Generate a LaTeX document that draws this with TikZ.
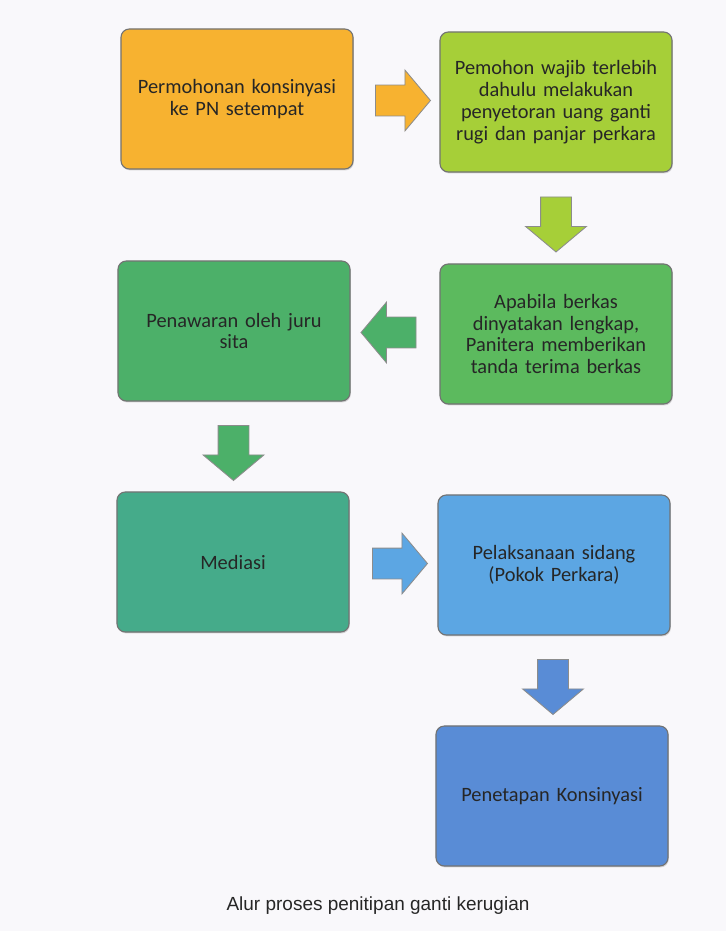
\documentclass[tikz,border=0pt]{standalone}
\usepackage{fontspec}
\setmainfont{Carlito}
\newfontfamily\capfont{Liberation Sans}
\usetikzlibrary{shapes.arrows}
\usetikzlibrary{positioning}
\usetikzlibrary{calc}
\usetikzlibrary{shadows}
\definecolor{bgcol}{rgb}{0.976, 0.973, 0.984}
\definecolor{morange}{rgb}{0.97, 0.70, 0.19}
\definecolor{mlime}{rgb}{0.65, 0.81, 0.22}
\definecolor{mgreen}{rgb}{0.36, 0.73, 0.37}
\definecolor{mgreenb}{rgb}{0.30, 0.69, 0.41}
\definecolor{mteal}{rgb}{0.27, 0.67, 0.54}
\definecolor{mblue}{rgb}{0.36, 0.65, 0.89}
\definecolor{mbluedark}{rgb}{0.35, 0.55, 0.84}
\tikzset{box/.style = {draw = black!55, line width = 0.8pt, rounded corners = 6pt,
    minimum width = 5.8cm, minimum height = 3.5cm, text width = 5.5cm, align = center,
    font = \fontsize{14.5}{15.5}\selectfont, text = black!85,
    drop shadow = {opacity = 0.3, shadow xshift = 0.6pt, shadow yshift = -1pt}}}
\tikzset{arr/.style = {single arrow, draw = black!45, line width = 0.6pt, inner sep = 0.375cm,
    minimum height = 1.375cm, minimum width = 1.5cm, single arrow head extend = 0.375cm,
    single arrow tip angle = 100}}

\begin{document}
\begin{tikzpicture}[x = 0.025cm, y = -0.025cm]
      \fill [bgcol] (0, 0) rectangle (726, 931);
      \useasboundingbox (0, 0) rectangle (726, 931);

      \node [box, fill = morange] (mohon) at (237, 99) {Permohonan konsinyasi\\ke PN setempat};
      \node [box, fill = mlime] (setor) at (556, 102) {Pemohon wajib terlebih\\dahulu melakukan\\penyetoran uang ganti\\rugi dan panjar perkara};
      \node [box, fill = mgreen] (berkas) at (556, 334) {Apabila berkas\\dinyatakan lengkap,\\Panitera memberikan\\tanda terima berkas};
      \node [box, fill = mgreenb] (tawar) at (234, 331) {Penawaran oleh juru\\sita};
      \node [box, fill = mteal] (mediasi) at (233, 562) {Mediasi};
      \node [box, fill = mblue] (sidang) at (554, 565) {Pelaksanaan sidang\\(Pokok Perkara)};
      \node [box, fill = mbluedark] (tetap) at (552, 796) {Penetapan Konsinyasi};

      \node [arr, fill = morange] (a1) at ($(mohon.east)!0.5!(setor.west)$) {};
      \node [arr, fill = mlime, shape border rotate = 270] (a2) at ($(setor.south)!0.5!(berkas.north)$) {};
      \node [arr, fill = mgreenb, shape border rotate = 180] (a3) at ($(berkas.west)!0.5!(tawar.east)$) {};
      \node [arr, fill = mgreenb, shape border rotate = 270] (a4) at ($(tawar.south)!0.5!(mediasi.north)$) {};
      \node [arr, fill = mblue] (a5) at ($(mediasi.east)!0.5!(sidang.west)$) {};
      \node [arr, fill = mbluedark, shape border rotate = 270] (a6) at ($(sidang.south)!0.5!(tetap.north)$) {};

      \node [font = \capfont\fontsize{13.5}{15}\selectfont, text = black!85] (cap) at (378, 906) {Alur proses penitipan ganti kerugian};
    \end{tikzpicture}
\end{document}
